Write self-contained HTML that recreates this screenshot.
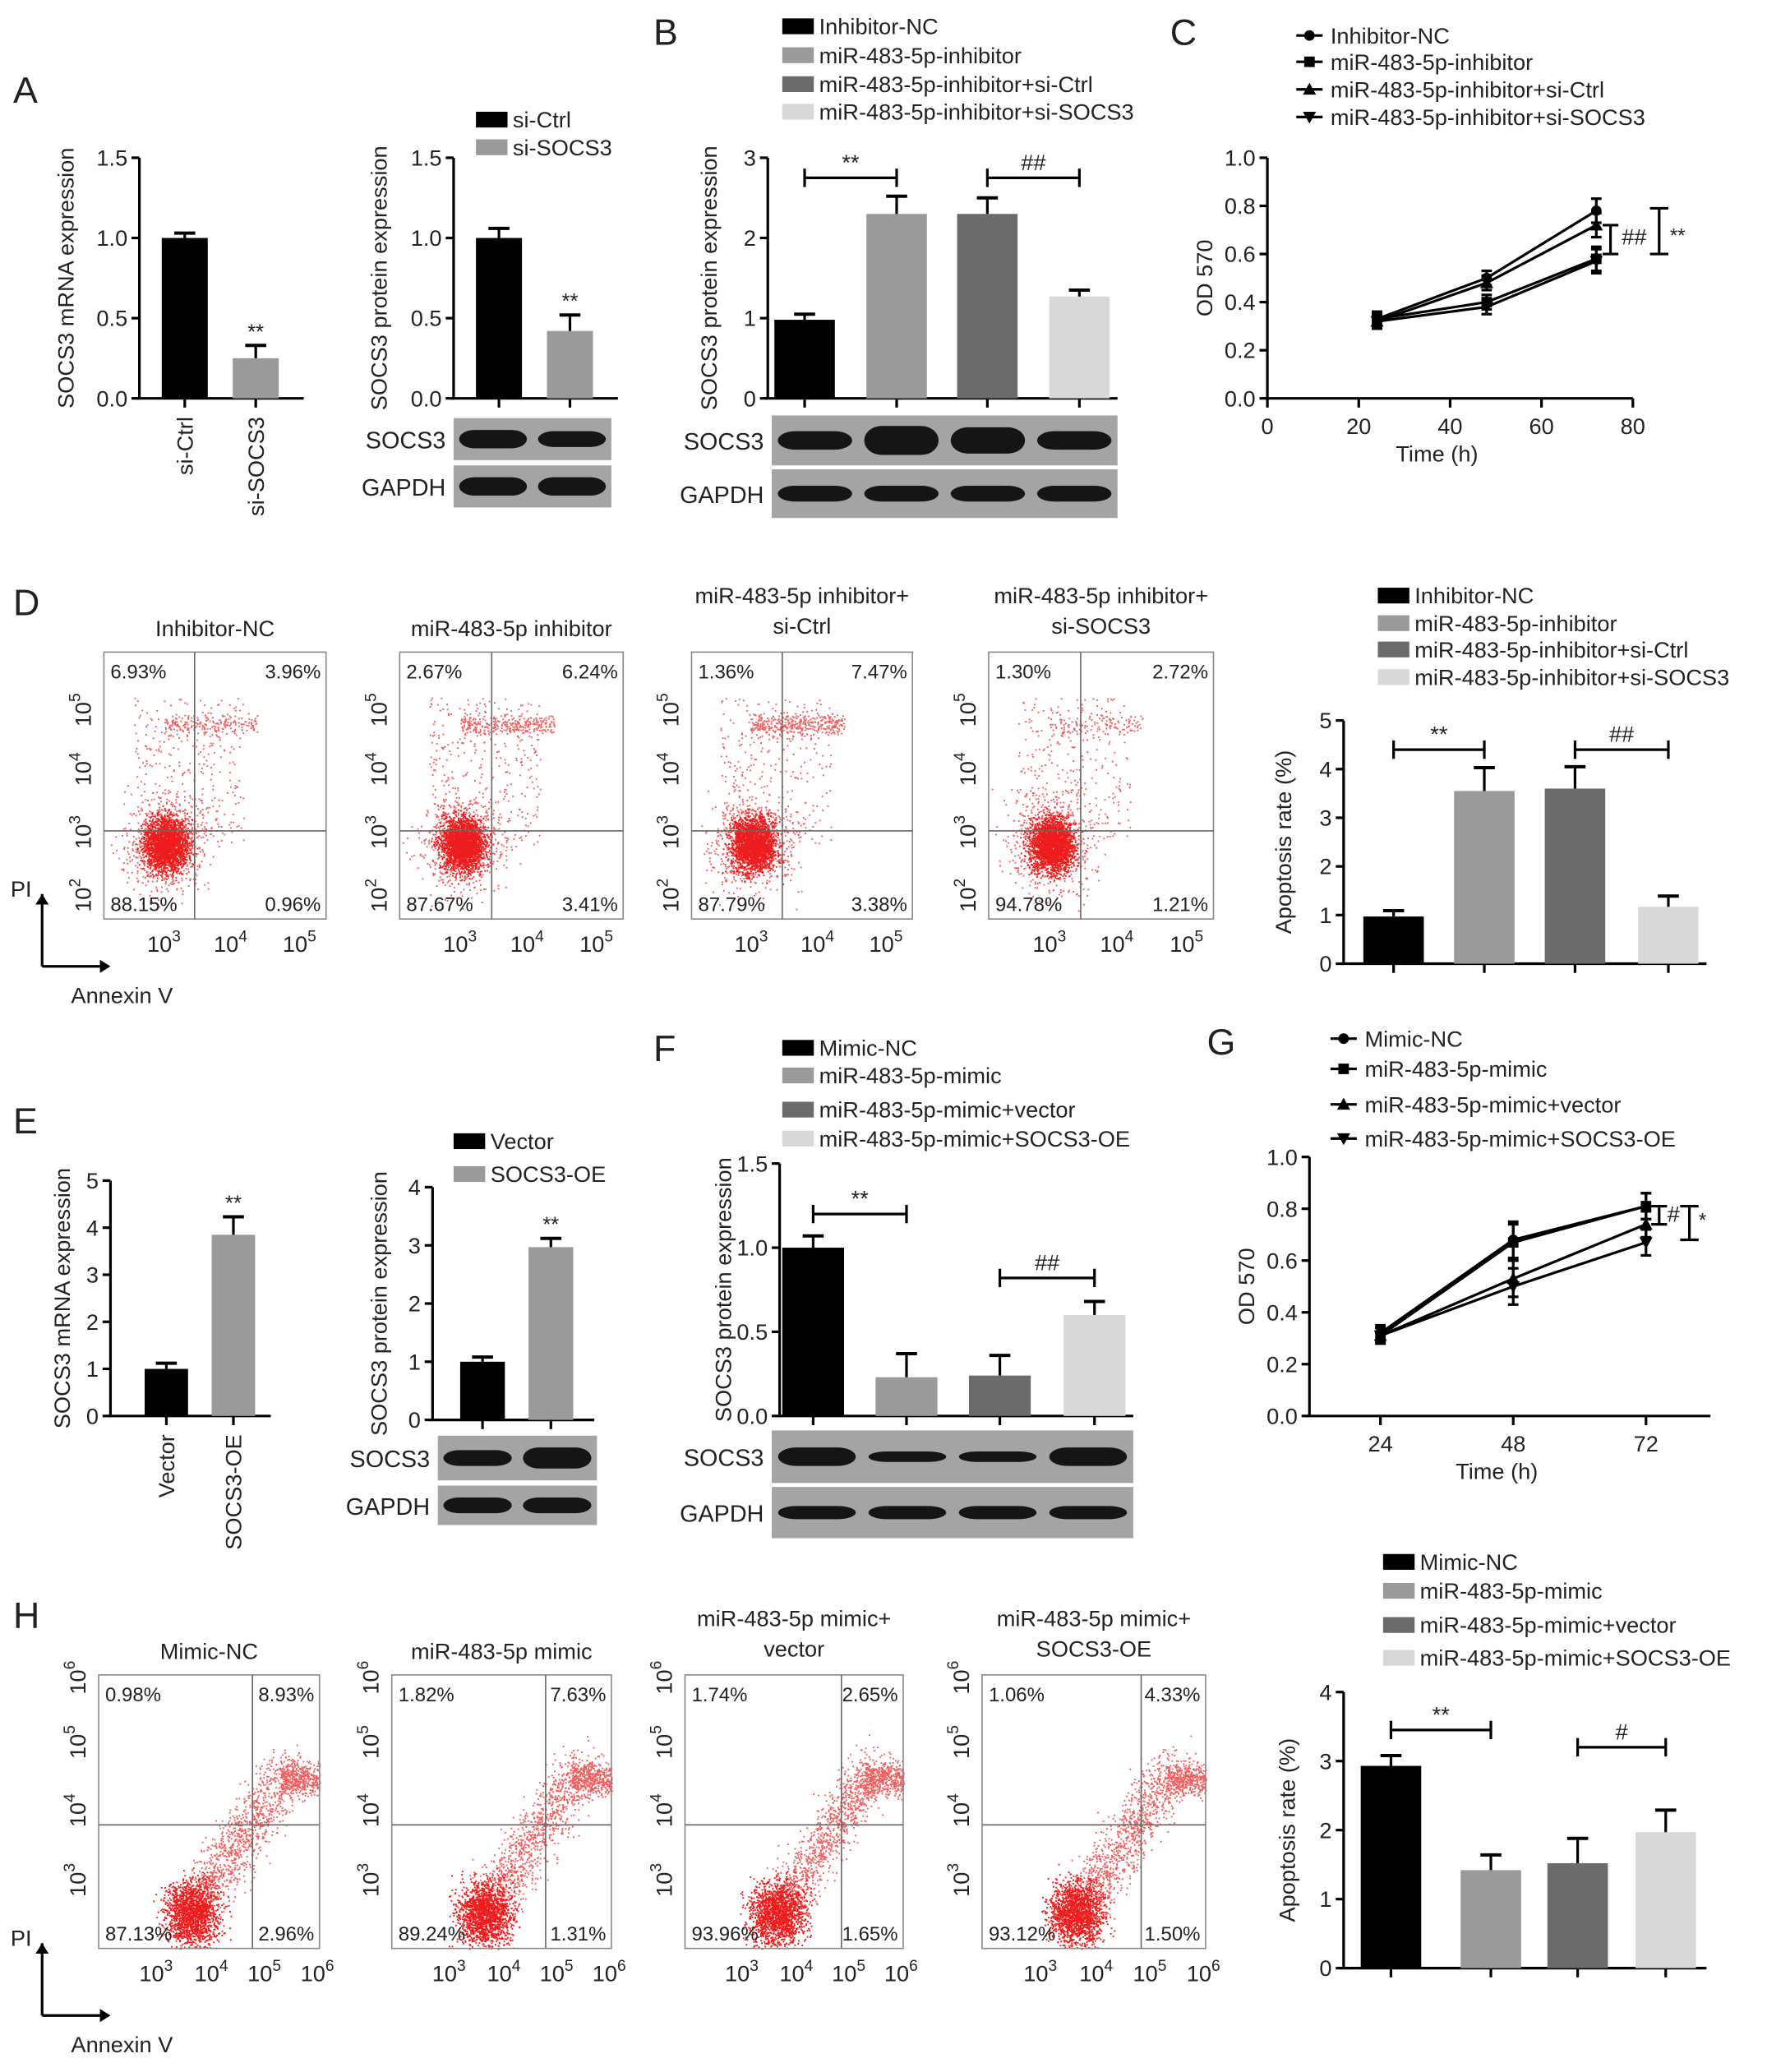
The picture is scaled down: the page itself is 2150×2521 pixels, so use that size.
<!DOCTYPE html>
<html><head><meta charset="utf-8">
<style>
html,body{margin:0;padding:0;background:#fff;}
svg{display:block;font-family:"Liberation Sans",sans-serif;}
</style></head>
<body>
<svg id="fig" width="2150" height="2521" viewBox="0 0 1344 1576" xmlns="http://www.w3.org/2000/svg">
<rect width="1344" height="1576" fill="#fff"/>
</svg>
<script>
// ---------- data ----------
var colors4 = ['#000000','#9a9a9a','#6b6b6b','#d8d8d8'];
var aMrnaCats = ['si-Ctrl','si-SOCS3'];
var aMrnaVals = [1.0, 0.25];
var aMrnaErr = [0.03, 0.08];
var aProtVals = [1.0, 0.42];
var aProtErr = [0.06, 0.10];
var aTicks = [0, 0.5, 1.0, 1.5];
var bLegend = ['Inhibitor-NC','miR-483-5p-inhibitor','miR-483-5p-inhibitor+si-Ctrl','miR-483-5p-inhibitor+si-SOCS3'];
var bVals = [0.98, 2.3, 2.3, 1.27];
var bErr = [0.07, 0.22, 0.2, 0.08];
var bTicks = [0,1,2,3];
var cTimes = [24, 48, 72];
var cNC = [0.33, 0.50, 0.78];
var cInh = [0.33, 0.40, 0.58];
var cCtrl = [0.32, 0.48, 0.72];
var cSOCS = [0.32, 0.38, 0.57];
var cErr = [0.03, 0.03, 0.05];
var cXTicks = [0,20,40,60,80];
var odTicks = [0,0.2,0.4,0.6,0.8,1.0];
var dVals = [0.97, 3.55, 3.6, 1.17];
var dErr = [0.12, 0.48, 0.45, 0.22];
var dTicks = [0,1,2,3,4,5];
var eCats = ['Vector','SOCS3-OE'];
var eMrnaVals = [1.0, 3.85];
var eMrnaErr = [0.12, 0.38];
var eMrnaTicks = [0,1,2,3,4,5];
var eProtVals = [1.0, 2.97];
var eProtErr = [0.08, 0.15];
var eProtTicks = [0,1,2,3,4];
var fLegend = ['Mimic-NC','miR-483-5p-mimic','miR-483-5p-mimic+vector','miR-483-5p-mimic+SOCS3-OE'];
var fVals = [1.0, 0.23, 0.24, 0.6];
var fErr = [0.07, 0.14, 0.12, 0.08];
var fTicks = [0,0.5,1.0,1.5];
var gTimes = [24,48,72];
var gNC = [0.32,0.68,0.81];
var gMim = [0.31,0.67,0.81];
var gVec = [0.31,0.53,0.74];
var gOE = [0.31,0.50,0.67];
var gErr = [0.03,0.07,0.05];
var hVals = [2.93, 1.42, 1.52, 1.97];
var hErr = [0.15, 0.22, 0.36, 0.32];
var hTicks = [0,1,2,3,4];
var dTitles = [['Inhibitor-NC'],['miR-483-5p inhibitor'],['miR-483-5p inhibitor+','si-Ctrl'],['miR-483-5p inhibitor+','si-SOCS3']];
var dPct = [['6.93%','3.96%','88.15%','0.96%'],['2.67%','6.24%','87.67%','3.41%'],['1.36%','7.47%','87.79%','3.38%'],['1.30%','2.72%','94.78%','1.21%']];
var hTitles = [['Mimic-NC'],['miR-483-5p mimic'],['miR-483-5p mimic+','vector'],['miR-483-5p mimic+','SOCS3-OE']];
var hPct = [['0.98%','8.93%','87.13%','2.96%'],['1.82%','7.63%','89.24%','1.31%'],['1.74%','2.65%','93.96%','1.65%'],['1.06%','4.33%','93.12%','1.50%']];

// ---------- helpers ----------
var NS='http://www.w3.org/2000/svg';
var svg=document.getElementById('fig');
function mk(tag,attrs,parent){var e=document.createElementNS(NS,tag);for(var k in attrs)e.setAttribute(k,attrs[k]);(parent||svg).appendChild(e);return e;}
function grp(name){var g=mk('g',{});


return g;}
function txt(p,x,y,s,size,anchor,rot,name){var t=mk('text',{x:x,y:y,'font-size':size||15,'text-anchor':anchor||'middle',fill:'#222'},p);
if(rot)t.setAttribute('transform','rotate('+rot+' '+x+' '+y+')');
t.textContent=s;


return t;}
function line(p,x1,y1,x2,y2,w,c){return mk('line',{x1:x1,y1:y1,x2:x2,y2:y2,stroke:c||'#000','stroke-width':w||2},p);}
function fmt(v,dec){return dec?v.toFixed(1):String(v);}

function barChart(o){
  var g=grp(o.name);
  var y0=o.y0,y1=o.y1,max=o.ticks[o.ticks.length-1];
  function Y(v){return y0-(v/max)*(y0-y1);}
  line(g,o.ax,y1,o.ax,y0,2);
  line(g,o.ax-2,y0,o.axEnd,y0,2);
  o.ticks.forEach(function(t){line(g,o.ax-6,Y(t),o.ax,Y(t),2);
    txt(g,o.ax-9,Y(t)+6,fmt(t,o.dec),17,'end',0,'y-tick');});
  txt(g,o.ylabX,(y0+y1)/2,o.ylab,17,'middle',-90,'y-axis-title');
  o.vals.forEach(function(v,i){
    var x=o.bx[i],w=o.bw,cx=x+w/2;
    var r=mk('rect',{x:x,y:Y(v),width:w,height:y0-Y(v),fill:o.colors[i]},g);
    
    
    var e=v+o.err[i];
    line(g,cx,Y(v),cx,Y(e),2);
    line(g,cx-8,Y(e),cx+8,Y(e),2.5);
    line(g,cx,y0,cx,y0+7,2);
    if(o.stars&&o.stars[i])txt(g,cx,Y(e)-5,o.stars[i],16,'middle',0,'significance');
  });
  if(o.cats)o.cats.forEach(function(c,i){var cx=o.bx[i]+o.bw/2;txt(g,cx+6,y0+14,c,17,'end',-90,'x-tick');});
  if(o.brackets)o.brackets.forEach(function(b){
    var xa=o.bx[b[0]]+o.bw/2,xb=o.bx[b[1]]+o.bw/2,yy=Y(b[2]);
    line(g,xa,yy,xb,yy,2);line(g,xa,yy-7,xa,yy+7,2);line(g,xb,yy-7,xb,yy+7,2);
    txt(g,(xa+xb)/2,yy-6,b[3],17,'middle',0,'significance');});
  return {g:g,Y:Y};
}
function legend(name,x,ys,labels,cols,size){
  var g=grp(name);
  labels.forEach(function(l,i){
    var r=mk('rect',{x:x,y:ys[i]-6,width:24,height:12,fill:cols[i]},g);
    
    
    txt(g,x+28,ys[i]+6,l,size||17,'start',0,'legend-entry');
  });
}
function markerPath(type,x,y){
  if(type===0)return 'M'+(x-4)+' '+y+'A4 4 0 1 0 '+(x+4)+' '+y+'A4 4 0 1 0 '+(x-4)+' '+y+'Z';
  if(type===1)return 'M'+(x-4)+' '+(y-4)+'h8v8h-8Z';
  if(type===2)return 'M'+x+' '+(y-5)+'L'+(x+5)+' '+(y+4)+'L'+(x-5)+' '+(y+4)+'Z';
  return 'M'+x+' '+(y+5)+'L'+(x+5)+' '+(y-4)+'L'+(x-5)+' '+(y-4)+'Z';
}
function lineLegend(name,x,ys,labels){
  var g=grp(name);
  labels.forEach(function(l,i){line(g,x-10,ys[i],x+10,ys[i],2);
    var m=mk('path',{d:markerPath(i,x,ys[i]),fill:'#000'},g);
    
    
    txt(g,x+16,ys[i]+6,l,17,'start',0,'legend-entry');});
}
function lineChart(o){
  var g=grp(o.name);
  function X(t){return o.xa+(t-o.xmin)/(o.xmax-o.xmin)*(o.xb-o.xa);}
  function Y(v){return o.y0-v*(o.y0-o.y1);}
  line(g,o.ax,o.y1,o.ax,o.y0,2);line(g,o.ax-2,o.y0,o.axEnd,o.y0,2);
  odTicks.forEach(function(t){line(g,o.ax-6,Y(t),o.ax,Y(t),2);txt(g,o.ax-9,Y(t)+6,t.toFixed(1),17,'end',0,'y-tick');});
  o.xticks.forEach(function(t){line(g,X(t),o.y0,X(t),o.y0+7,2);txt(g,X(t),o.y0+27,String(t),17,'middle',0,'x-tick');});
  txt(g,(o.ax+o.axEnd)/2-10,o.y0+48,'Time (h)',17,'middle',0,'x-axis-title');
  txt(g,o.ax-42,(o.y0+o.y1)/2,'OD 570',17,'middle',-90,'y-axis-title');
  o.series.forEach(function(s,si){
    var d='';o.times.forEach(function(t,i){d+=(i?'L':'M')+X(t)+' '+Y(s[i]);});
    var p=mk('path',{d:d,fill:'none',stroke:'#000','stroke-width':2},g);
    
    
    o.times.forEach(function(t,i){var x=X(t),y=Y(s[i]),e=o.err[i];
      line(g,x,Y(s[i]-e),x,Y(s[i]+e),2);line(g,x-4,Y(s[i]+e),x+4,Y(s[i]+e),2);line(g,x-4,Y(s[i]-e),x+4,Y(s[i]-e),2);
      var m=mk('path',{d:markerPath(si,x,y),fill:'#000'},g);
      
      });
  });
  return {g:g,X:X,Y:Y};
}
function blot(name,x,w,y1,y2,y3,y4,ls,gw){
  var g=grp(name);
  mk('rect',{x:x,y:y1,width:w,height:y2-y1,fill:'#a4a4a4'},g);
  mk('rect',{x:x,y:y3,width:w,height:y4-y3,fill:'#a4a4a4'},g);
  var n=ls.length,lane=w/n;
  for(var i=0;i<n;i++){var cx=x+lane*(i+0.5);
    var e=mk('rect',{x:cx-lane*0.43,y:(y1+y2)/2-ls[i],width:lane*0.86,height:ls[i]*2,rx:lane*0.2,ry:ls[i],fill:'#151515'},g);
    
    
    var e2=mk('rect',{x:cx-lane*0.43,y:(y3+y4)/2-gw,width:lane*0.86,height:gw*2,rx:lane*0.2,ry:gw,fill:'#151515'},g);
    
    }
  txt(g,x-6,(y1+y2)/2+7,'SOCS3',18,'end',0,'blot-label');
  txt(g,x-6,(y3+y4)/2+7,'GAPDH',18,'end',0,'blot-label');
}
var seed=7;function rnd(){seed=(seed*16807)%2147483647;return seed/2147483647;}
function gauss(){return (rnd()+rnd()+rnd()+rnd()-2)/0.58;}
function flow(name,bx,by,bw,bh,qx,qy,title,pct,kind,xt,yt,idx){
  var g=grp(name);
  var pts='',faint='';
  function dot(x,y){if(x>bx&&x<bx+bw&&y>by&&y<by+bh)pts+='M'+x.toFixed(1)+' '+y.toFixed(1)+'h1.2v1.2h-1.2z';}
  function fdot(x,y){if(x>bx&&x<bx+bw&&y>by&&y<by+bh)faint+='M'+x.toFixed(1)+' '+y.toFixed(1)+'h1.2v1.2h-1.2z';}
  var cx,cy,i,t;
  if(kind==='D'){cx=bx+bw*0.28;cy=by+bh*0.72;
    for(i=0;i<2200;i++)dot(cx+gauss()*8,cy+gauss()*10);
    for(i=0;i<700;i++)fdot(cx+gauss()*16,cy+gauss()*18);
    for(i=0;i<300;i++)fdot(cx+(rnd()-0.3)*bw*0.5,cy-rnd()*bh*0.55);
    var n=[200,300,350,120][idx];
    for(i=0;i<n;i++)fdot(bx+bw*0.27+rnd()*bw*0.42,by+bh*0.27+gauss()*4);
  } else {cx=bx+bw*0.42;cy=by+bh*0.87;
    for(i=0;i<1600;i++)dot(cx+gauss()*10,cy+gauss()*12);
    for(i=0;i<1100;i++){t=rnd();fdot(cx+t*bw*0.45+gauss()*9,cy-t*bh*0.55+gauss()*9);}
    for(i=0;i<400;i++)fdot(bx+bw*0.82+rnd()*bw*0.18,by+bh*0.38+gauss()*6);
  }
  var p2=mk('path',{d:faint,fill:'#f06060'},g);
  
  
  var p=mk('path',{d:pts,fill:'#ee1c1c'},g);
  
  
  var r=mk('rect',{x:bx,y:by,width:bw,height:bh,fill:'none',stroke:'#888','stroke-width':1},g);
  
  
  line(g,qx,by,qx,by+bh,1,'#666');line(g,bx,qy,bx+bw,qy,1,'#666');
  txt(g,bx+5,by+20,pct[0],15,'start',0,'quadrant-percent');
  txt(g,bx+bw-4,by+20,pct[1],15,'end',0,'quadrant-percent');
  txt(g,bx+5,by+bh-6,pct[2],15,'start',0,'quadrant-percent');
  txt(g,bx+bw-4,by+bh-6,pct[3],15,'end',0,'quadrant-percent');
  if(title.length===1)txt(g,bx+bw/2,by-12,title[0],17,'middle',0,'plot-title');
  else{txt(g,bx+bw/2,by-37,title[0],17,'middle',0,'plot-title');txt(g,bx+bw/2,by-14,title[1],17,'middle',0,'plot-title');}
  xt.forEach(function(t){var tt=txt(g,bx+t[0],by+bh+25,'10',17,'middle',0,'x-tick');
    var s=mk('tspan',{dy:-8,'font-size':12},tt);s.textContent=t[1];});
  yt.forEach(function(t){var x=bx-10,y=by+t[0];var tt=txt(g,x,y,'10',17,'middle',-90,'y-tick');
    var s=mk('tspan',{dy:-8,'font-size':12},tt);s.textContent=t[1];});
}
function panelLetter(l,x,y){txt(svg,x,y,l,28,'start',0,'panel-label-'+l.toLowerCase());}
function piAxes(x,y){var g=grp('pi-annexin-axes');
  line(g,x,y,x,y+55,2);mk('path',{d:'M'+(x-5)+' '+(y+8)+'L'+x+' '+y+'L'+(x+5)+' '+(y+8)+'Z'},g);
  line(g,x,y+55,x+50,y+55,2);mk('path',{d:'M'+(x+44)+' '+(y+50)+'L'+(x+52)+' '+(y+55)+'L'+(x+44)+' '+(y+60)+'Z'},g);
  txt(g,x-24,y+2,'PI',17,'start',0,'pi-label');
  txt(g,x+22,y+83,'Annexin V',17,'start',0,'annexin-label');}

// ---------- panel A ----------
panelLetter('A',10,78);
barChart({name:'chart-a-mrna',ax:106,axEnd:231,y0:303,y1:120,ticks:aTicks,dec:true,vals:aMrnaVals,err:aMrnaErr,bx:[123,177],bw:35,colors:['#000000','#9a9a9a'],stars:['','**'],cats:aMrnaCats,ylab:'SOCS3 mRNA expression',ylabX:56});
barChart({name:'chart-a-protein',ax:345,axEnd:470,y0:303,y1:120,ticks:aTicks,dec:true,vals:aProtVals,err:aProtErr,bx:[362,416],bw:35,colors:['#000000','#9a9a9a'],stars:['','**'],ylab:'SOCS3 protein expression',ylabX:294});
legend('legend-a',362,[91,112],aMrnaCats,['#000000','#9a9a9a']);
blot('blot-a',345,120,318,350,354,386,[7,6],7);

// ---------- panel B ----------
panelLetter('B',497,34);
legend('legend-b',595,[20,42,64,85],bLegend,colors4);
barChart({name:'chart-b',ax:584,axEnd:850,y0:303,y1:120,ticks:bTicks,vals:bVals,err:bErr,bx:[589,659,728,798],bw:46,colors:colors4,brackets:[[0,1,2.75,'**'],[2,3,2.75,'##']],ylab:'SOCS3 protein expression',ylabX:545});
blot('blot-b',587,263,316,354,357,394,[7,11,10,7],6);

// ---------- panel C ----------
panelLetter('C',890,34);
lineLegend('legend-c',996,[27,47,68,89],bLegend);
var cc=lineChart({name:'chart-c',ax:964,axEnd:1242,xa:964,xb:1242,xmin:0,xmax:80,y0:303,y1:120,xticks:cXTicks,times:cTimes,series:[cNC,cInh,cCtrl,cSOCS],err:cErr});
(function(){var g=cc.g,Y=cc.Y;line(g,1225,Y(0.72),1225,Y(0.6),2);line(g,1219,Y(0.72),1231,Y(0.72),2);line(g,1219,Y(0.6),1231,Y(0.6),2);
txt(g,1243,Y(0.64),'##',17,'middle',0,'significance');
line(g,1262,Y(0.79),1262,Y(0.6),2);line(g,1255,Y(0.79),1269,Y(0.79),2);line(g,1255,Y(0.6),1269,Y(0.6),2);
txt(g,1276,Y(0.65),'**',15,'middle',0,'significance');})();

// ---------- panel D ----------
panelLetter('D',10,468);
var dBoxes=[[79,248],[304,474],[526,694],[752,923]];
var dQ=[148,374,595,822];
dBoxes.forEach(function(b,i){var w=b[1]-b[0];
  flow('flow-d-'+(i+1),b[0],496,w,203,dQ[i],632,dTitles[i],dPct[i],'D',[[w*0.27,'3'],[w*0.57,'4'],[w*0.88,'5']],[[185,'2'],[137,'3'],[89,'4'],[44,'5']],i);});
piAxes(32,680);
legend('legend-d',1048,[453,474,494,515],bLegend,colors4);
barChart({name:'chart-d',ax:1022,axEnd:1298,y0:733,y1:548,ticks:dTicks,vals:dVals,err:dErr,bx:[1037,1106,1175,1246],bw:46,colors:colors4,brackets:[[0,1,4.4,'**'],[2,3,4.4,'##']],ylab:'Apoptosis rate (%)',ylabX:982});

// ---------- panel E ----------
panelLetter('E',10,862);
barChart({name:'chart-e-mrna',ax:84,axEnd:206,y0:1077,y1:898,ticks:eMrnaTicks,vals:eMrnaVals,err:eMrnaErr,bx:[110,161],bw:33,colors:['#000000','#9a9a9a'],stars:['','**'],cats:eCats,ylab:'SOCS3 mRNA expression',ylabX:53});
barChart({name:'chart-e-protein',ax:329,axEnd:452,y0:1080,y1:903,ticks:eProtTicks,vals:eProtVals,err:eProtErr,bx:[350,402],bw:34,colors:['#000000','#9a9a9a'],stars:['','**'],ylab:'SOCS3 protein expression',ylabX:294});
legend('legend-e',345,[868,893],eCats,['#000000','#9a9a9a']);
blot('blot-e',333,121,1092,1126,1130,1160,[6,8],6);

// ---------- panel F ----------
panelLetter('F',497,807);
legend('legend-f',595,[797,818,844,866],fLegend,colors4);
barChart({name:'chart-f',ax:593,axEnd:862,y0:1077,y1:885,ticks:fTicks,dec:true,vals:fVals,err:fErr,bx:[595,666,737,809],bw:47,colors:colors4,brackets:[[0,1,1.2,'**'],[2,3,0.82,'##']],ylab:'SOCS3 protein expression',ylabX:556});
blot('blot-f',587,275,1088,1128,1131,1170,[7,4,4,7],5);

// ---------- panel G ----------
panelLetter('G',918,802);
lineLegend('legend-g',1022,[790,813,840,866],fLegend);
var gc=lineChart({name:'chart-g',ax:996,axEnd:1301,xa:1050,xb:1252,xmin:24,xmax:72,y0:1077,y1:880,xticks:gTimes,times:gTimes,series:[gNC,gMim,gVec,gOE],err:gErr});
(function(){var g=gc.g,Y=gc.Y;line(g,1262,Y(0.81),1262,Y(0.74),2);line(g,1256,Y(0.81),1268,Y(0.81),2);line(g,1256,Y(0.74),1268,Y(0.74),2);
txt(g,1273,Y(0.75),'#',17,'middle',0,'significance');
line(g,1285,Y(0.81),1285,Y(0.68),2);line(g,1278,Y(0.81),1292,Y(0.81),2);line(g,1278,Y(0.68),1292,Y(0.68),2);
txt(g,1295,Y(0.73),'*',15,'middle',0,'significance');})();

// ---------- panel H ----------
panelLetter('H',10,1238);
var hBoxes=[[75,243],[298,465],[521,687],[747,917]];
var hQ=[192,415,640,868];
hBoxes.forEach(function(b,i){var w=b[1]-b[0];
  flow('flow-h-'+(i+1),b[0],1274,w,208,hQ[i],1388,hTitles[i],hPct[i],'H',[[w*0.26,'3'],[w*0.51,'4'],[w*0.75,'5'],[w*0.99,'6']],[[156,'3'],[103,'4'],[51,'5'],[2,'6']],i);});
piAxes(32,1478);
legend('legend-h',1052,[1188,1210,1236,1261],fLegend,colors4);
barChart({name:'chart-h',ax:1022,axEnd:1298,y0:1497,y1:1287,ticks:hTicks,vals:hVals,err:hErr,bx:[1035,1111,1177,1244],bw:46,colors:colors4,brackets:[[0,1,3.45,'**'],[2,3,3.2,'#']],ylab:'Apoptosis rate (%)',ylabX:985});
</script>
</body></html>
